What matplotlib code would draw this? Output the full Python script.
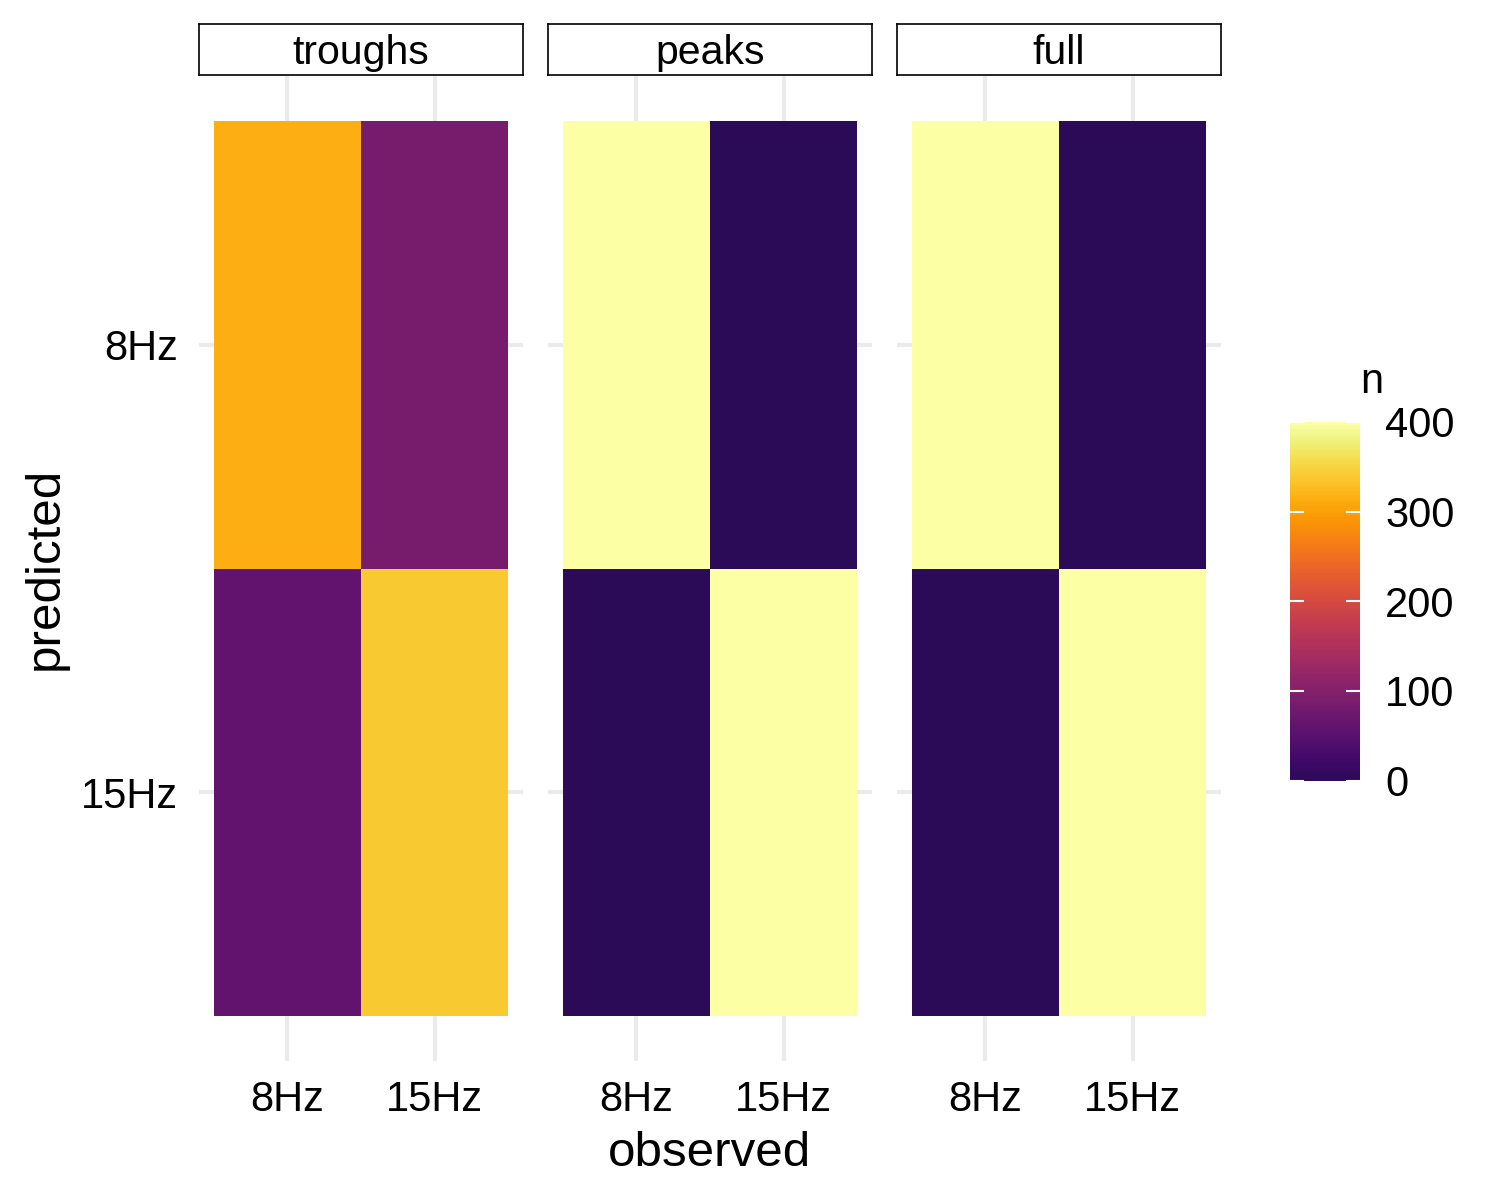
import numpy as np
import matplotlib
matplotlib.use("Agg")
import matplotlib.pyplot as plt
from matplotlib.colors import ListedColormap, Normalize
from matplotlib.cm import ScalarMappable

plt.rcParams['font.family'] = ['Liberation Sans', 'DejaVu Sans']

# ---- data ----
facets = ["troughs", "peaks", "full"]
observed = ["8Hz", "15Hz"]
predicted = ["8Hz", "15Hz"]
# n[facet][predicted][observed]
n_troughs = [[315, 85], [60, 340]]
n_peaks = [[400, 0], [0, 400]]
n_full = [[400, 0], [0, 400]]
counts = [n_troughs, n_peaks, n_full]
vmin, vmax = 0, 400

cmap = ListedColormap(plt.cm.inferno(np.linspace(0.15, 1.0, 256)))
norm = Normalize(vmin=vmin, vmax=vmax)

W, H = 1500, 1200
fig = plt.figure(figsize=(W / 100, H / 100), dpi=100)

def px_axes(x0, y0, x1, y1):
    return fig.add_axes([x0 / W, 1 - y1 / H, (x1 - x0) / W, (y1 - y0) / H])

grid_col = "#EBEBEB"
panel_left = [199, 548, 897]
pw = 324
ptop, pbot = 76, 1061

xpos = np.arange(1, len(observed) + 1)
ypos = np.arange(len(predicted), 0, -1)  # 8Hz on top

for i, (fac, cnt) in enumerate(zip(facets, counts)):
    x0 = panel_left[i]
    ax = px_axes(x0, ptop, x0 + pw, pbot)
    ax.set_xlim(0.4, 2.6)
    ax.set_ylim(0.4, 2.6)
    for s in ax.spines.values():
        s.set_visible(False)
    for xp in xpos:
        ax.axvline(xp, color=grid_col, lw=3, zorder=0)
    for yp in ypos:
        ax.axhline(yp, color=grid_col, lw=3, zorder=0)
    for r, yp in enumerate(ypos):
        for c, xp in enumerate(xpos):
            ax.add_patch(plt.Rectangle((xp - 0.5, yp - 0.5), 1, 1,
                                       facecolor=cmap(norm(cnt[r][c])),
                                       edgecolor='none', zorder=2))
    ax.set_xticks(xpos)
    ax.set_xticklabels(observed, fontsize=30)
    ax.tick_params(axis='x', length=0, pad=13.5)
    if i == 0:
        ax.set_yticks(ypos)
        ax.set_yticklabels(predicted, fontsize=30)
        ax.tick_params(axis='y', length=0, pad=15)
    else:
        ax.set_yticks([])
    # strip
    sax = px_axes(x0, 24, x0 + pw, 75)
    sax.set_xticks([]); sax.set_yticks([])
    for s in sax.spines.values():
        s.set_linewidth(1.2)
        s.set_color('black')
    fig.text((x0 + pw / 2) / W, 1 - 64 / H, fac, ha='center', va='baseline',
             fontsize=29.5)

# axis titles
fig.text(710 / W, 1 - 1166 / H, "observed", ha='center', va='baseline', fontsize=35.5)
fig.text(45 / W, 1 - 568 / H, "predicted", ha='center', va='center',
         rotation=90, fontsize=35.5)

# colorbar
cax = px_axes(1290, 422, 1360, 780.5)
sm = ScalarMappable(norm=norm, cmap=cmap)
cb = fig.colorbar(sm, cax=cax)
cb.outline.set_visible(False)
cb.set_ticks([0, 100, 200, 300, 400])
cb.ax.tick_params(left=True, right=True, direction='in', colors='white',
                  length=10, width=1.5, labelsize=30, pad=18,
                  labelcolor='black')
fig.text(1360 / W, 1 - 393 / H, "n", ha='left', va='baseline', fontsize=30)

fig.savefig("out.png", dpi=100, facecolor='white')
